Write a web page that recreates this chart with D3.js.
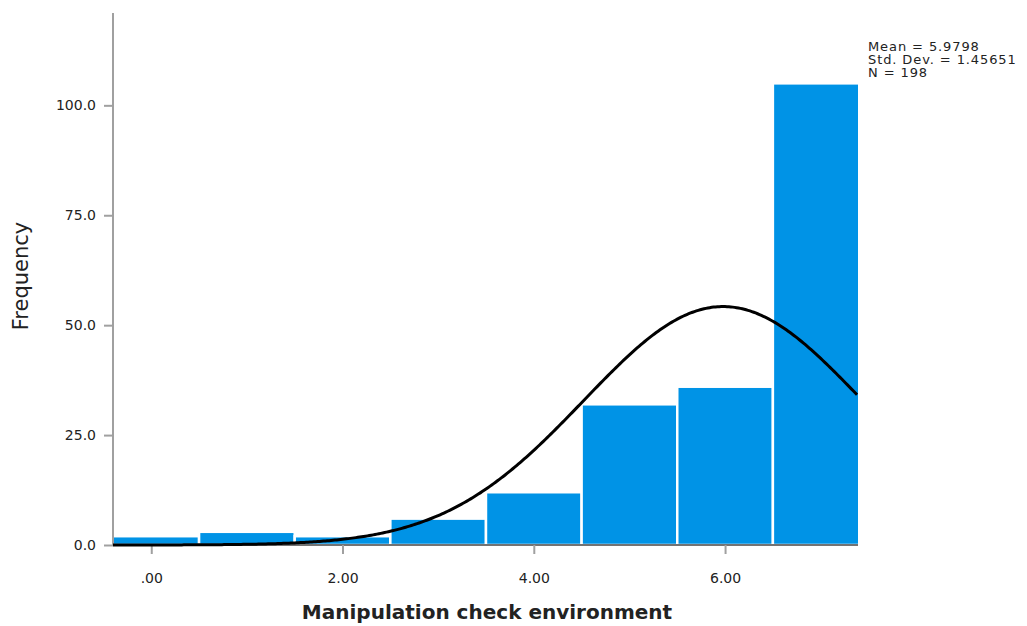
<!DOCTYPE html>
<html>
<head>
<meta charset="utf-8">
<script src="https://cdn.jsdelivr.net/npm/d3@7"></script>
<style>
  body { margin: 0; background: #fff; }
  text { font-family: "DejaVu Sans", sans-serif; fill: #222; }
</style>
</head>
<body>
<div id="chart"></div>
<script>
// histogram bins (centre value) and counts
var binCenters = [0, 1, 2, 3, 4, 5, 6, 7];
var counts = [2, 3, 2, 6, 12, 32, 36, 105];
var yTicks = [0, 25, 50, 75, 100];
var xTicks = [0, 2, 4, 6];
var stats = { mean: 5.9798, sd: 1.45651, n: 198 };
var statLines = ["Mean = 5.9798", "Std. Dev. = 1.45651", "N = 198"];

(function() {
  var width = 1027, height = 626;
  var pLeft = 113, pRight = 858, pTop = 13, pBottom = 545;

  var svg = d3.select("#chart").append("svg")
      .attr("width", width)
      .attr("height", height);

  var x = d3.scaleLinear().domain([-0.4, 7.39]).range([pLeft, pRight]);
  var y = d3.scaleLinear().domain([0, 121]).range([pBottom, pTop]);

  // bars, clipped to plot area
  svg.append("clipPath").attr("id", "plot")
    .append("rect")
      .attr("x", pLeft).attr("y", pTop)
      .attr("width", pRight - pLeft).attr("height", pBottom - pTop);

  svg.append("g")
      .attr("clip-path", "url(#plot)")
    .selectAll("rect")
      .data(binCenters)
    .enter().append("rect")
      .attr("x", function(d) { return x(d - 0.5); })
      .attr("width", function(d) { return x(d + 0.5) - x(d - 0.5); })
      .attr("y", function(d, i) { return y(counts[i]); })
      .attr("height", function(d, i) { return pBottom - y(counts[i]); })
      .style("fill", "#0093e6")
      .style("stroke", "#fff")
      .style("stroke-width", 2.5);

  // normal curve from mean / sd
  var curveX = d3.range(-0.4, 7.3901, 0.02);
  function normal(v) {
    return stats.n * Math.exp(-0.5 * Math.pow((v - stats.mean) / stats.sd, 2)) / (stats.sd * Math.sqrt(2 * Math.PI));
  }

  // axes
  var yAxis = svg.append("g")
      .attr("transform", "translate(" + pLeft + ",0)")
      .call(d3.axisLeft(y).tickValues(yTicks).tickSize(9).tickPadding(8).tickFormat(d3.format(".1f")));
  yAxis.select(".domain").attr("d", "M0," + pTop + "V" + pBottom).style("stroke", "#a0a0a0").style("stroke-width", 2);

  var xAxis = svg.append("g")
      .attr("transform", "translate(0," + pBottom + ")")
      .call(d3.axisBottom(x).tickValues(xTicks).tickSize(9).tickPadding(19)
        .tickFormat(function(d) { return d === 0 ? ".00" : d3.format(".2f")(d); }));
  xAxis.select(".domain").attr("d", "M" + pLeft + ",0H" + pRight).style("stroke", "#444").style("stroke-width", 1.5);

  svg.selectAll(".tick line").style("stroke", "#a0a0a0").style("stroke-width", 2);
  svg.selectAll(".tick text").style("font-size", "14px").style("fill", "#222");

  svg.append("path")
      .datum(curveX)
      .attr("d", d3.line().x(function(d) { return x(d); }).y(function(d) { return y(normal(d)); }))
      .style("fill", "none")
      .style("stroke", "#000")
      .style("stroke-width", 3);

  // axis titles
  svg.append("text")
      .attr("transform", "translate(28," + 276 + ") rotate(-90)")
      .attr("text-anchor", "middle")
      .style("font-size", "21px")
      .text("Frequency");

  svg.append("text")
      .attr("x", 487).attr("y", 619)
      .attr("text-anchor", "middle")
      .style("font-size", "20px")
      .style("font-weight", "bold")
      .text("Manipulation check environment");

  // stats box
  svg.append("g").selectAll("text")
      .data(statLines)
    .enter().append("text")
      .attr("x", 868)
      .attr("y", function(d, i) { return 51 + i * 13; })
      .style("font-size", "13px")
      .style("letter-spacing", "0.9px")
      .text(function(d) { return d; });
})();
</script>
</body>
</html>
